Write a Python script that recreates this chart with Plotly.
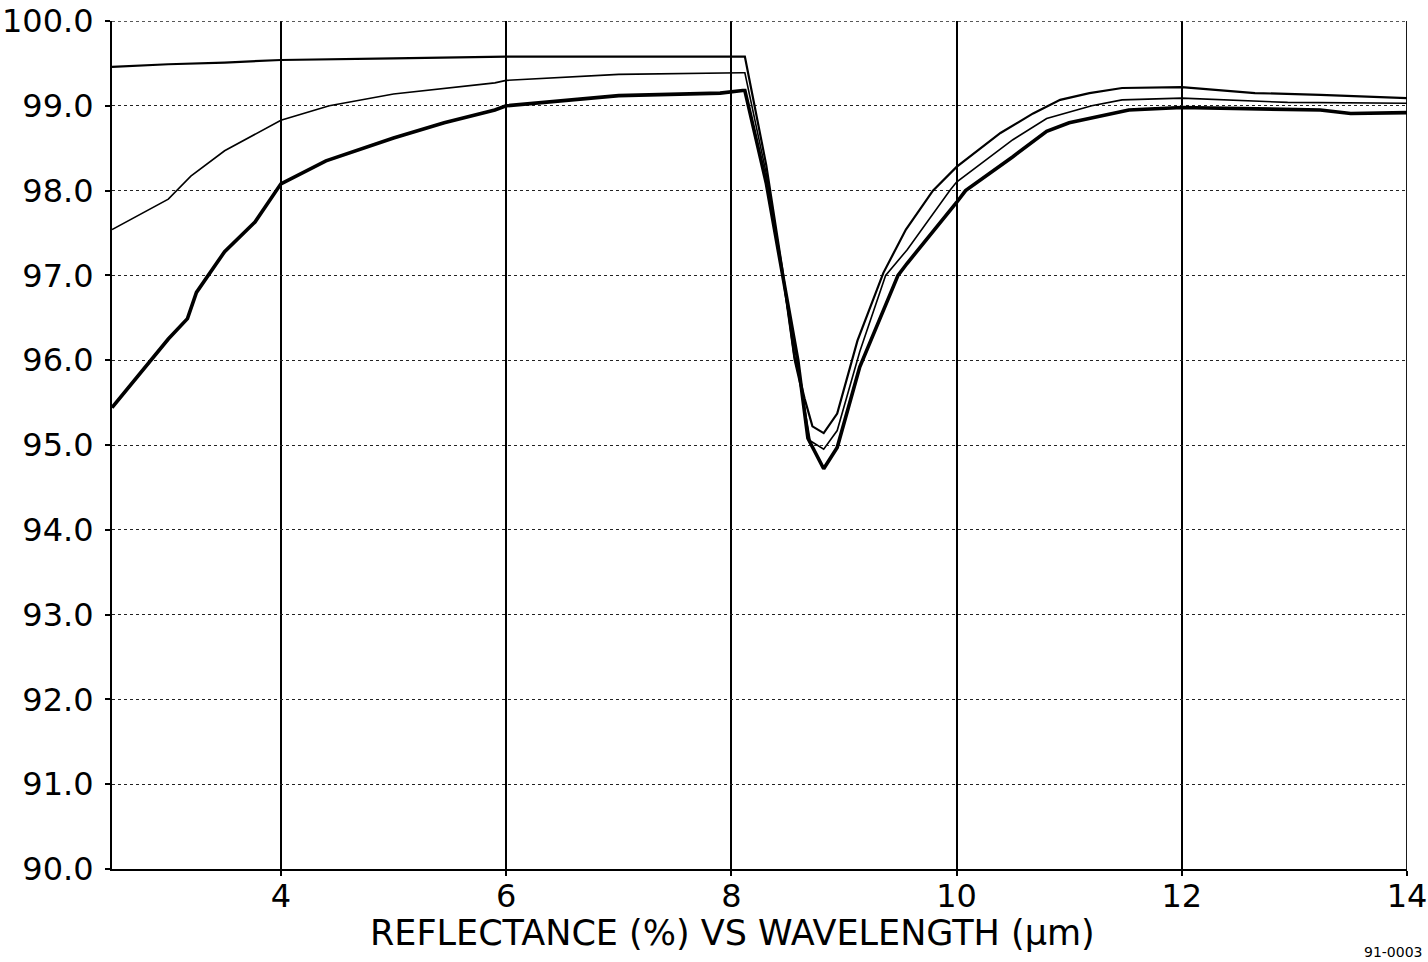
import plotly.graph_objects as go

# ---- data ----
wl_a = [2.5, 3.0, 3.5, 4.0, 5.0, 6.0, 7.0, 8.0, 8.12, 8.31, 8.45, 8.56, 8.65, 8.72, 8.82,
        8.94, 9.12, 9.35, 9.55, 9.79, 10.0, 10.39, 10.68, 10.92, 11.18, 11.47, 12.0,
        12.65, 13.23, 14.0]
refl_a = [99.46, 99.49, 99.51, 99.54, 99.56, 99.58, 99.58, 99.58, 99.58, 98.3, 97.1, 96.05,
          95.55, 95.22, 95.14, 95.37, 96.23, 97.03, 97.54, 98.0, 98.28, 98.68, 98.91, 99.07,
          99.15, 99.21, 99.22, 99.15, 99.13, 99.09]

wl_b = [2.5, 3.0, 3.2, 3.5, 4.0, 4.43, 5.0, 5.9, 6.0, 7.0, 8.1, 8.12, 8.31, 8.45, 8.56,
        8.63, 8.7, 8.82, 8.94, 9.14, 9.37, 9.56, 9.94, 10.0, 10.5, 10.8, 11.2, 11.47, 12.0,
        12.94, 14.0]
refl_b = [97.54, 97.9, 98.17, 98.47, 98.83, 99.0, 99.14, 99.27, 99.3, 99.37, 99.39, 99.39,
          98.2, 97.05, 96.0, 95.6, 95.05, 94.95, 95.17, 96.1, 97.0, 97.3, 98.0, 98.1, 98.6,
          98.85, 99.0, 99.07, 99.09, 99.04, 99.03]

wl_c = [2.5, 3.0, 3.17, 3.25, 3.5, 3.77, 4.0, 4.4, 5.0, 5.45, 5.9, 6.0, 7.0, 7.9, 8.1,
        8.12, 8.31, 8.45, 8.59, 8.68, 8.82, 8.94, 9.14, 9.48, 9.56, 10.0, 10.08, 10.5,
        10.8, 11.0, 11.18, 11.53, 12.0, 13.23, 13.5, 14.0]
refl_c = [95.44, 96.25, 96.49, 96.8, 97.28, 97.63, 98.08, 98.35, 98.62, 98.8, 98.95, 99.0,
          99.12, 99.15, 99.18, 99.18, 98.09, 97.05, 96.0, 95.08, 94.72, 94.97, 95.92, 97.0,
          97.14, 97.86, 98.0, 98.4, 98.7, 98.8, 98.85, 98.95, 98.98, 98.95, 98.91, 98.92]

x_ticks = [4, 6, 8, 10, 12, 14]
y_ticks = [90, 91, 92, 93, 94, 95, 96, 97, 98, 99, 100]
x_range = [2.5, 14]
y_range = [90, 100]

title_text = "REFLECTANCE (%) VS WAVELENGTH (\u03bcm)"
code_text = "91-0003"

FONT = "DejaVu Sans, Liberation Sans, Arial, sans-serif"

fig = go.Figure()
fig.add_trace(go.Scatter(x=wl_a, y=refl_a, mode="lines",
                         line=dict(color="black", width=2.2), showlegend=False))
fig.add_trace(go.Scatter(x=wl_b, y=refl_b, mode="lines",
                         line=dict(color="black", width=1.6), showlegend=False))
fig.add_trace(go.Scatter(x=wl_c, y=refl_c, mode="lines",
                         line=dict(color="black", width=3.6), showlegend=False))

# edge grid lines (plotly drops grid lines at range ends)
fig.add_shape(type="line", xref="paper", yref="y", x0=0, x1=1,
              y0=y_ticks[-1], y1=y_ticks[-1],
              line=dict(color="#222", width=1.4, dash="dot"))
fig.add_shape(type="line", xref="x", yref="paper", x0=x_ticks[-1], x1=x_ticks[-1],
              y0=0, y1=1, line=dict(color="black", width=1.8))

fig.add_annotation(text=title_text, xref="paper", yref="paper", x=0.4795, y=-0.0755,
                   xanchor="center", yanchor="middle", showarrow=False,
                   font=dict(family=FONT, size=35, color="black"))
fig.add_annotation(text=code_text, xref="paper", yref="paper", x=0.965, y=-0.1095,
                   xanchor="left", yanchor="bottom", showarrow=False,
                   font=dict(family=FONT, size=14, color="black"))

fig.update_layout(
    width=1428, height=962,
    margin=dict(l=112, r=21, t=21, b=93),
    paper_bgcolor="white", plot_bgcolor="white",
    font=dict(family=FONT, color="black"),
    hovermode=False,
    xaxis=dict(range=x_range, tickvals=x_ticks, ticktext=[str(v) for v in x_ticks],
               showgrid=True, gridcolor="black", gridwidth=1.6,
               showline=True, linecolor="black", linewidth=2,
               ticks="outside", ticklen=5, tickcolor="black", tickwidth=1.5,
               tickfont=dict(size=32, family=FONT, color="black"),
               zeroline=False, ticklabelstandoff=-7, automargin=False,
               ticklabeloverflow="allow"),
    yaxis=dict(range=y_range, tickvals=y_ticks, ticktext=[f"{v:.1f}" for v in y_ticks],
               showgrid=True, gridcolor="#222", gridwidth=1.4, griddash="dot",
               showline=True, linecolor="black", linewidth=2,
               ticks="outside", ticklen=5, tickcolor="black", tickwidth=1.5,
               tickfont=dict(size=32, family=FONT, color="black"),
               zeroline=False, ticklabelstandoff=5, automargin=False,
               ticklabeloverflow="allow"),
)

fig.write_html("out.html", config={"displayModeBar": False},
               post_script="document.body.style.margin='0px';document.body.style.overflow='hidden';")
